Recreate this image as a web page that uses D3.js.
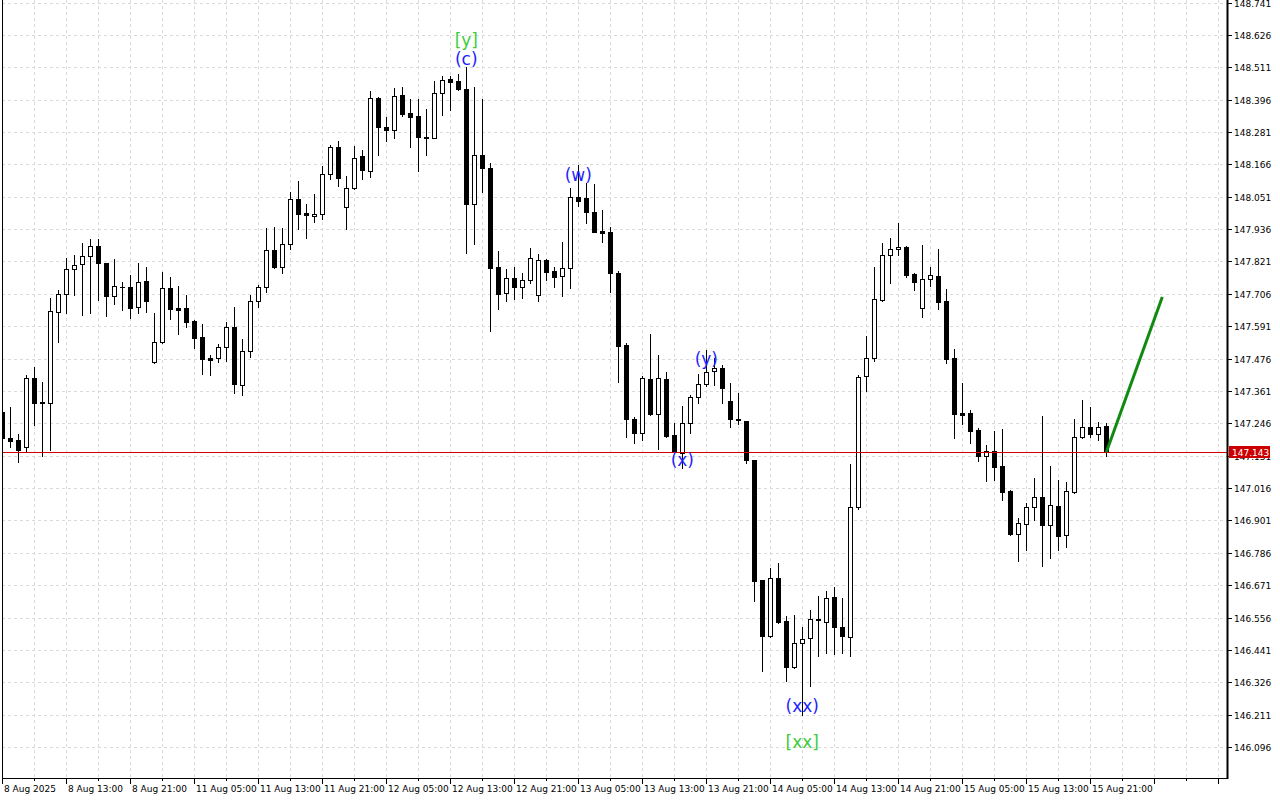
<!DOCTYPE html>
<html><head><meta charset="utf-8">
<script src="https://cdn.jsdelivr.net/npm/d3@7"></script>
<style>html,body{margin:0;padding:0;background:#fff;overflow:hidden}</style>
</head><body><svg id="c" width="1280" height="800"></svg>
<script>
const opens = [147.286,147.193,147.186,147.161,147.407,147.322,147.318,147.641,147.705,147.794,
147.812,147.840,147.876,147.815,147.698,147.729,147.730,147.659,147.751,147.464,
147.535,147.727,147.656,147.656,147.609,147.553,147.478,147.478,147.517,147.588,
147.382,147.503,147.680,147.730,147.862,147.801,147.883,148.043,147.993,147.983,
147.990,148.132,148.228,148.014,148.082,148.196,148.142,148.402,148.299,148.288,
148.412,148.348,148.338,148.263,148.260,148.420,148.469,148.462,148.434,148.025,
148.199,148.153,147.801,147.709,147.762,147.730,147.755,147.702,147.826,147.787,
147.769,147.798,148.050,148.046,147.997,147.929,147.926,147.780,147.524,147.261,
147.211,147.403,147.279,147.403,147.204,147.140,147.247,147.339,147.385,147.432,
147.442,147.325,147.261,147.254,147.115,146.689,146.490,146.696,146.543,146.380,
146.465,146.483,146.549,146.539,146.629,146.522,146.486,146.948,147.414,147.478,
147.684,147.844,147.865,147.872,147.776,147.656,147.758,147.769,147.680,147.478,
147.282,147.282,147.221,147.130,147.147,147.094,147.005,146.852,146.888,146.948,
146.984,146.884,146.952,146.849,147.002,147.197,147.233,147.208,147.236];
const highs = [147.300,147.304,147.208,147.417,147.446,147.393,147.691,147.720,147.833,147.844,
147.887,147.901,147.901,147.817,147.830,147.748,147.773,147.815,147.801,147.638,
147.783,147.766,147.734,147.702,147.613,147.599,147.489,147.528,147.606,147.659,
147.545,147.702,147.737,147.940,147.943,147.940,148.068,148.107,148.025,148.061,
148.160,148.235,148.249,148.125,148.231,148.217,148.427,148.404,148.334,148.437,
148.441,148.398,148.398,148.363,148.462,148.480,148.480,148.487,148.512,148.441,
148.398,148.171,147.858,147.794,147.801,147.780,147.869,147.847,147.830,147.801,
147.890,148.082,148.164,148.100,148.096,148.004,147.943,147.787,147.531,147.268,
147.414,147.563,147.489,147.428,147.247,147.307,147.346,147.421,147.506,147.478,
147.453,147.389,147.353,147.256,147.117,146.691,146.732,146.749,146.561,146.564,
146.522,146.582,146.632,146.650,146.664,146.625,147.101,147.417,147.556,147.801,
147.887,147.904,147.958,147.876,147.780,147.879,147.801,147.865,147.723,147.510,
147.389,147.293,147.228,147.169,147.218,147.225,147.009,146.909,146.962,147.051,
147.272,147.094,147.044,147.037,147.261,147.329,147.304,147.250,147.247];
const lows = [147.179,147.161,147.108,147.144,147.240,147.130,147.151,147.535,147.638,147.702,
147.631,147.638,147.684,147.627,147.670,147.648,147.620,147.638,147.641,147.460,
147.533,147.616,147.563,147.588,147.513,147.421,147.417,147.464,147.467,147.353,
147.346,147.482,147.659,147.712,147.799,147.780,147.865,147.936,147.904,147.961,
147.972,148.114,148.089,147.936,148.080,148.114,148.121,148.199,148.249,148.260,
148.338,148.228,148.142,148.199,148.258,148.341,148.359,148.432,147.851,147.883,
148.068,147.574,147.652,147.680,147.687,147.691,147.744,147.680,147.755,147.730,
147.698,147.727,148.018,147.958,147.924,147.890,147.712,147.393,147.197,147.176,
147.186,147.277,147.154,147.197,147.142,147.087,147.211,147.318,147.378,147.382,
147.318,147.233,147.243,147.105,146.614,146.366,146.488,146.536,146.330,146.378,
146.209,146.312,146.419,146.429,146.426,146.429,146.419,146.941,147.361,147.467,
147.682,147.744,147.844,147.766,147.720,147.623,147.734,147.652,147.460,147.193,
147.243,147.176,147.112,147.041,147.044,146.973,146.849,146.756,146.795,146.902,
146.738,146.767,146.795,146.806,147.000,147.195,147.197,147.186,147.130];
const closes = [147.193,147.183,147.151,147.407,147.318,147.320,147.645,147.705,147.794,147.808,
147.840,147.876,147.815,147.698,147.734,147.731,147.656,147.748,147.680,147.535,
147.727,147.652,147.648,147.606,147.549,147.474,147.471,147.517,147.588,147.385,
147.503,147.680,147.730,147.862,147.801,147.883,148.043,147.990,147.986,147.990,
148.132,148.228,148.117,148.082,148.189,148.146,148.402,148.299,148.288,148.409,
148.345,148.334,148.263,148.260,148.420,148.466,148.459,148.434,148.025,148.199,
148.153,147.798,147.705,147.762,147.730,147.755,147.833,147.826,147.783,147.766,
147.798,148.050,148.036,147.997,147.926,147.922,147.780,147.520,147.261,147.211,
147.407,147.279,147.407,147.200,147.144,147.247,147.339,147.385,147.428,147.442,
147.371,147.261,147.257,147.115,146.685,146.490,146.696,146.539,146.380,146.465,
146.479,146.550,146.551,146.625,146.522,146.490,146.948,147.410,147.478,147.687,
147.844,147.865,147.872,147.773,147.748,147.758,147.773,147.677,147.474,147.279,
147.276,147.218,147.130,147.147,147.090,147.002,146.852,146.891,146.948,146.984,
146.884,146.955,146.845,147.005,147.197,147.233,147.208,147.233,147.143];

const timeLabels = ["8 Aug 2025","8 Aug 13:00","8 Aug 21:00","11 Aug 05:00","11 Aug 13:00","11 Aug 21:00",
"12 Aug 05:00","12 Aug 13:00","12 Aug 21:00","13 Aug 05:00","13 Aug 13:00","13 Aug 21:00",
"14 Aug 05:00","14 Aug 13:00","14 Aug 21:00","15 Aug 05:00","15 Aug 13:00","15 Aug 21:00"];
const timeLabelBars = [0,8,16,24,32,40,48,56,64,72,80,88,96,104,112,120,128,136];
const priceTicks = ["148.741","148.626","148.511","148.396","148.281","148.166","148.051","147.936",
"147.821","147.706","147.591","147.476","147.361","147.246","147.131","147.016","146.901","146.786",
"146.671","146.556","146.441","146.326","146.211","146.096"];
const lastPrice = 147.143;
const waveTexts = ["[y]","(c)","(w)","(x)","(y)","(xx)","[xx]"];
const waveBars = [58,58,72,85,88,100,100];
const wavePrices = [148.608,148.540,148.128,147.115,147.474,146.241,146.113];
const waveDegree = ["major","minor","minor","minor","minor","minor","major"];
const projBars = [138,145];
const projPrices = [147.143,147.695];

const svg = d3.select("#c");
const L = 2, R = 1227, T = 0, B = 778;
const x = d3.scaleLinear().domain([0,138]).range([2.3,1106.3]);
const y = d3.scaleLinear().domain([145.986,148.75]).range([B,T]);
const font = "DejaVu Sans, Verdana, sans-serif";

svg.append("rect").attr("width",1280).attr("height",800).attr("fill","#fff");
svg.append("defs").append("clipPath").attr("id","clip")
  .append("rect").attr("x",L+0.5).attr("y",T).attr("width",R-L-0.5).attr("height",B-T);

// grid
const grid = svg.append("g").attr("stroke","#dadada").attr("stroke-dasharray","3,3").attr("stroke-width",1);
priceTicks.forEach(t=>{
  const yy = Math.round(y(+t))+0.5;
  grid.append("line").attr("x1",L).attr("x2",R).attr("y1",yy).attr("y2",yy);
});
d3.range(4,156,4).forEach(i=>{
  const xx = Math.round(x(i))+0.5;
  if (xx < R) grid.append("line").attr("x1",xx).attr("x2",xx).attr("y1",T).attr("y2",B);
});

// candles
const cg = svg.append("g").attr("clip-path","url(#clip)");
opens.forEach((o,i)=>{
  const c = closes[i], h = highs[i], l = lows[i];
  const cx = Math.round(x(i));
  const wx = cx+0.5;
  cg.append("line").attr("x1",wx).attr("x2",wx)
    .attr("y1",Math.round(y(h))).attr("y2",Math.round(y(l))+1)
    .attr("stroke","#000").attr("stroke-width",1);
  const top = Math.round(y(Math.max(o,c))), bot = Math.round(y(Math.min(o,c)));
  const bull = c > o;
  if (bot - top < 1) {
    cg.append("line").attr("x1",cx-2).attr("x2",cx+3).attr("y1",top+0.5).attr("y2",top+0.5)
      .attr("stroke","#000").attr("stroke-width",1);
  } else {
    cg.append("rect").attr("x",cx-1.5).attr("y",top+0.5).attr("width",4).attr("height",bot-top)
      .attr("fill",bull?"#fff":"#000").attr("stroke","#000").attr("stroke-width",1);
  }
});

// current price line
const yp = Math.round(y(lastPrice))+0.5;
svg.append("line").attr("x1",L).attr("x2",R).attr("y1",yp).attr("y2",yp)
  .attr("stroke","#d40000").attr("stroke-width",1);

// projection
svg.append("line").attr("clip-path","url(#clip)")
  .attr("x1",x(projBars[0])).attr("y1",y(projPrices[0]))
  .attr("x2",x(projBars[1])).attr("y2",y(projPrices[1]))
  .attr("stroke","#118a11").attr("stroke-width",3);

// wave labels
waveTexts.forEach((t,k)=>{
  svg.append("text").attr("x",x(waveBars[k])).attr("y",y(wavePrices[k]))
    .attr("text-anchor","middle").attr("dominant-baseline","central")
    .attr("font-family",font).attr("font-size",17)
    .attr("fill",waveDegree[k]==="major"?"#3ccc3c":"#1f1fff").text(t);
});

// frame
const fr = svg.append("g").attr("stroke","#000");
fr.append("line").attr("x1",L+0.5).attr("x2",L+0.5).attr("y1",T).attr("y2",B+1).attr("stroke-width",1);
fr.append("line").attr("x1",L).attr("x2",R+1).attr("y1",B+0.5).attr("y2",B+0.5).attr("stroke-width",1);
fr.append("line").attr("x1",R+0.5).attr("x2",R+0.5).attr("y1",T).attr("y2",B+1).attr("stroke-width",2);

// price axis
const pa = svg.append("g").attr("font-family",font).attr("font-size",9).attr("fill","#000");
priceTicks.forEach(t=>{
  const yy = Math.round(y(+t))+0.5;
  pa.append("line").attr("x1",R+1).attr("x2",R+5).attr("y1",yy).attr("y2",yy).attr("stroke","#000");
  pa.append("text").attr("x",R+7).attr("y",yy).attr("dominant-baseline","central").text(t);
});
// last price tag
pa.append("rect").attr("x",R+2).attr("y",yp-6.5).attr("width",41).attr("height",12).attr("fill","#cc0000");
pa.append("text").attr("x",R+5).attr("y",yp).attr("dominant-baseline","central").attr("fill","#fff")
  .text(lastPrice.toFixed(3));

// time axis
const ta = svg.append("g").attr("font-family",font).attr("font-size",9).attr("fill","#000");
d3.range(0,156,4).forEach(i=>{
  const xx = Math.round(x(i))+0.5;
  if (xx > R) return;
  const major = i % 8 === 0;
  ta.append("line").attr("x1",xx).attr("x2",xx).attr("y1",B+1).attr("y2",B+(major?6:3)).attr("stroke","#000");
});
timeLabels.forEach((t,k)=>{
  ta.append("text").attr("x",Math.round(x(timeLabelBars[k]))+2).attr("y",792).text(t);
});
</script></body></html>
